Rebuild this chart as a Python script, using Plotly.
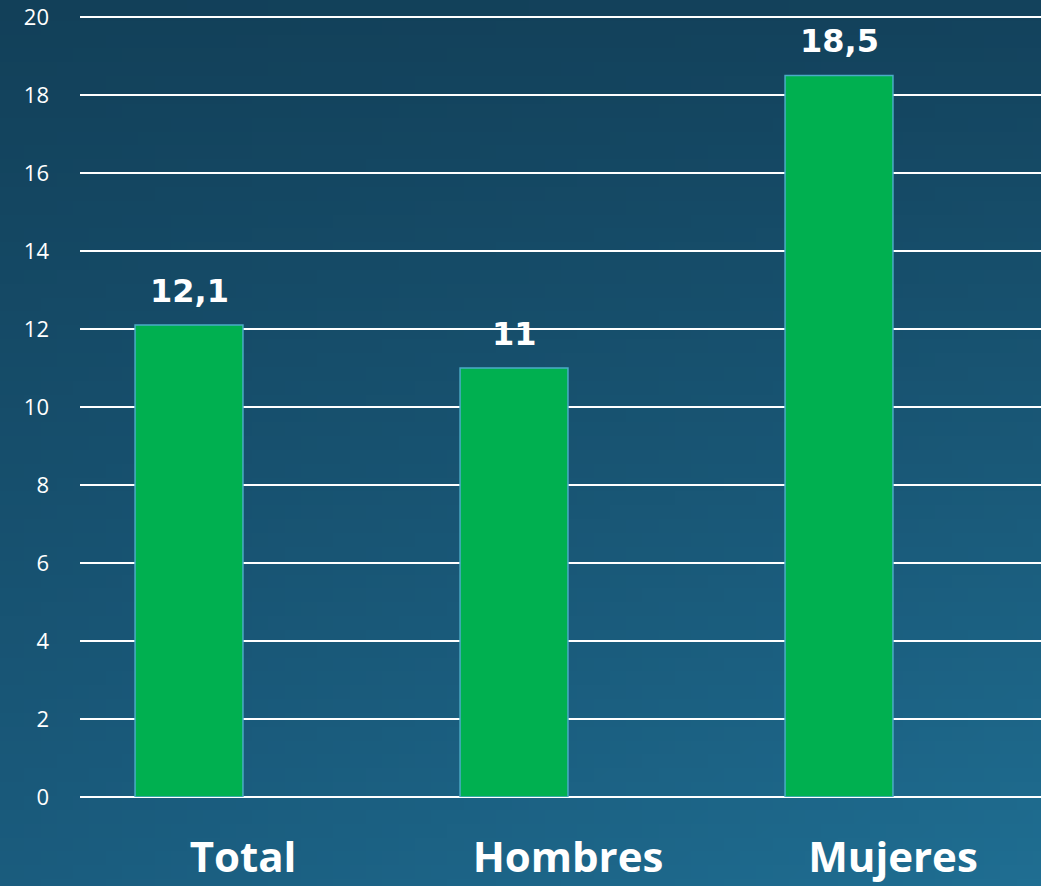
import base64, struct, zlib
import plotly.graph_objects as go

categories = ["Total", "Hombres", "Mujeres"]
values = [12.1, 11, 18.5]
y_ticks = [0, 2, 4, 6, 8, 10, 12, 14, 16, 18, 20]

W, H = 1041, 886

# ---- background gradient as a small PNG ----
def make_png(w, h, tl, tr, bl, br):
    rows = []
    for j in range(h):
        fy = j / (h - 1)
        row = bytearray([0])
        for i in range(w):
            fx = i / (w - 1)
            px = []
            for c in range(3):
                top = tl[c] * (1 - fx) + tr[c] * fx
                bot = bl[c] * (1 - fx) + br[c] * fx
                px.append(int(round(top * (1 - fy) + bot * fy)))
            row.extend(px)
        rows.append(bytes(row))
    raw = b"".join(rows)
    def chunk(t, d):
        c = struct.pack(">I", len(d)) + t + d
        return c + struct.pack(">I", zlib.crc32(t + d) & 0xffffffff)
    png = b"\x89PNG\r\n\x1a\n"
    png += chunk(b"IHDR", struct.pack(">IIBBBBB", w, h, 8, 2, 0, 0, 0))
    png += chunk(b"IDAT", zlib.compress(raw, 9))
    png += chunk(b"IEND", b"")
    return "data:image/png;base64," + base64.b64encode(png).decode()

bg = make_png(64, 64, (18, 64, 89), (19, 66, 92), (26, 92, 126), (31, 110, 146))

x_idx = list(range(len(categories)))
fig = go.Figure()
fig.add_trace(go.Bar(
    x=x_idx, y=values, width=0.332,
    marker=dict(color="#00b050", line=dict(color="#4bacc6", width=1.5)),
    hoverinfo="skip",
))

for i, v in zip(x_idx, values):
    fig.add_annotation(
        x=i, y=v, xref="x", yref="y", text=f"{v:g}".replace(".", ","),
        showarrow=False, yanchor="middle", yshift=34,
        font=dict(family="DejaVu Sans", size=32, color="white", weight="bold"),
    )

left, bottom, top = 80, 797, 15.05
fig.update_layout(
    width=W, height=H,
    margin=dict(l=0, r=0, t=0, b=0, pad=0),
    paper_bgcolor="#12405a",
    plot_bgcolor="rgba(0,0,0,0)",
    showlegend=False,
    images=[dict(source=bg, xref="paper", yref="paper", x=0, y=1,
                 sizex=1, sizey=1, sizing="stretch", layer="below")],
    xaxis=dict(
        domain=[left / W, 1],
        range=[-0.3354, 2.6215],
        tickvals=x_idx, ticktext=categories,
        showgrid=False, zeroline=False, showline=False, automargin=False,
        ticks="", ticklabelshift=54, ticklabelstandoff=32,
        tickfont=dict(family="Open Sans", size=42, color="white", weight="bold"),
        fixedrange=True,
    ),
    yaxis=dict(
        domain=[(H - bottom) / H, (H - top) / H],
        range=[0, 20.05],
        tickvals=y_ticks,
        showgrid=True, gridcolor="white", gridwidth=2,
        zeroline=True, zerolinecolor="white", zerolinewidth=2,
        showline=False, ticks="", ticklabelstandoff=30, automargin=False,
        tickfont=dict(family="Open Sans", size=22, color="white"),
        fixedrange=True,
    ),
)

fig.write_html(
    "out.html",
    config={"displayModeBar": False},
    post_script="document.body.style.margin='0';document.body.style.overflow='hidden';document.body.style.background='#12405a';",
)
